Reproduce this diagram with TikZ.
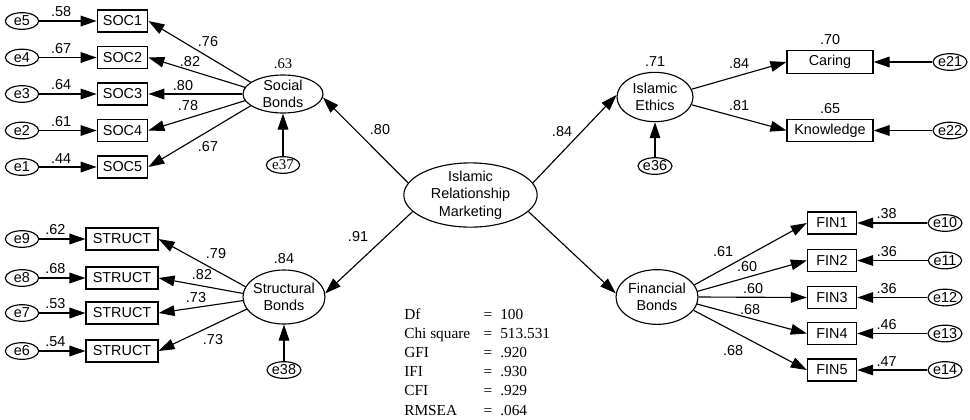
\documentclass[tikz,border=0pt]{standalone}
\usepackage{fontspec}
\setmainfont{Liberation Sans}
\newfontfamily\statfont{Liberation Serif}
\usetikzlibrary{%
    arrows.meta,
    positioning,
    shapes.geometric
}
\tikzset{headarrow/.style = {-{Triangle[length=12pt,width=8pt]}, line width=.85pt}}
\tikzset{
    latent/.style = {draw, ellipse, line width=.85pt, inner xsep=-2pt, inner ysep=-1pt,
        align=center, font=\fontsize{10.8}{13}\selectfont},
    errnode/.style = {draw, ellipse, line width=.85pt, inner sep=0pt, minimum width=25pt,
        minimum height=12.5pt, font=\fontsize{10.8}{12}\selectfont},
    obsbox/.style = {draw, rectangle, line width=.85pt, minimum height=16.5pt,
        font=\fontsize{10.8}{13}\selectfont},
    weight/.style = {inner sep=1pt, font=\fontsize{10.8}{13}\selectfont},
    statline/.style = {inner sep=0pt, text height=8pt, text depth=2pt,
        font=\statfont\fontsize{11.5}{13}\selectfont}
}

\begin{document}
\begin{tikzpicture}[x=0.75pt, y=-0.75pt]
    \useasboundingbox (0,0) rectangle (970,419);

    % latent variables
    \node[latent, minimum width=100pt, minimum height=48pt] (IRM) at (470.5,195) {Islamic\\Relationship\\Marketing};
    \node[latent, minimum width=60pt, minimum height=28.5pt] (SB) at (283,94) {Social\\Bonds};
    \node[latent, minimum width=61.5pt, minimum height=40.5pt] (StB) at (284,297) {Structural\\Bonds};
    \node[latent, minimum width=57pt, minimum height=37pt] (IE) at (655,97) {Islamic\\Ethics};
    \node[latent, minimum width=61.5pt, minimum height=41pt] (FB) at (657,297) {Financial\\Bonds};

    \node[weight, font=\statfont\fontsize{11}{13}\selectfont] (r2SB) [above=3pt of SB] {.63};
    \node[weight] (r2StB) [above=3pt of StB] {.84};
    \node[weight] (r2IE) [above=3pt of IE] {.71};

    % disturbances
    \node[errnode, font=\statfont\fontsize{11.2}{12}\selectfont] (e37) at (283,165) {e37};
    \node[errnode] (e38) at (284,370) {e38};
    \node[errnode] (e36) at (655,166) {e36};
    \draw[headarrow] (e37) -- (SB);
    \draw[headarrow] (e38) -- (StB);
    \draw[headarrow] (e36) -- (IE);

    % second order paths
    \draw[headarrow] (IRM.169) -- (SB.355);
    \draw[headarrow] (IRM.11) -- (IE.177);
    \draw[headarrow] (IRM.196) -- (StB.5);
    \draw[headarrow] (IRM.344) -- (FB.175);
    \node[weight] (wSB) at (380,130) {.80};
    \node[weight] (wIE) at (562,132) {.84};
    \node[weight] (wStB) at (358,237) {.91};

    % social bonds
    \foreach \i/\e/\y/\r/\a/\w/\lx/\ly in {%
        1/5/21/.58/160/.76/208/42,
        2/4/57.5/.67/170/.82/190/62,
        3/3/94/.64/180/.80/183/86,
        4/2/130.5/.61/190/.78/188/106,
        5/1/167/.44/200/.67/208/147%
        }
        {
        \node[obsbox, minimum width=38pt] (SOC\i) at (122.5,\y) {SOC\i};
        \node[errnode] (e\e) at (22,\y) {e\e};
        \draw[headarrow] (e\e) to node [weight, above=1.5pt, pos=.38] {\r} (SOC\i);
        \draw[headarrow] (SB.\a) -- (SOC\i.east);
        \node[weight] (wSOC\i) at (\lx,\ly) {\w};
        }

    % structural bonds
    \foreach \i/\e/\y/\r/\a/\w/\lx/\ly in {%
        1/9/239/.62/165/.79/216/254,
        2/8/278/.68/175/.82/202/275,
        3/7/313/.53/185/.73/196/298,
        4/6/351/.54/198/.73/213/340%
        }
        {
        \node[obsbox, minimum width=54pt] (STR\i) at (122,\y) {STRUCT};
        \node[errnode] (e\e) at (22,\y) {e\e};
        \draw[headarrow] (e\e) to node [weight, above=1.5pt, pos=.35] {\r} (STR\i);
        \draw[headarrow] (StB.\a) -- (STR\i.east);
        \node[weight] (wSTR\i) at (\lx,\ly) {\w};
        }

    % islamic ethics
    \foreach \n/\Label/\e/\y/\r/\a/\w in {%
        Car/Caring/21/62/.70/12/.84,
        Kno/Knowledge/22/130.5/.65/348/.81%
        }
        {
        \node[obsbox, minimum width=64.5pt] (\n) at (830,\y) {\Label};
        \node[errnode] (e\e) at (950,\y) {e\e};
        \node[weight] (r2\n) [above=3pt of \n] {\r};
        \draw[headarrow] (e\e) -- (\n);
        \draw[headarrow] (IE.\a) to node [weight, pos=.5, above=4pt] {\w} (\n.west);
        }

    % financial bonds
    \foreach \i/\e/\y/\r/\a/\w/\lx/\ly in {%
        1/10/223/.38/18/.61/723/252,
        2/11/260.5/.36/8/.60/747/267,
        3/12/297.5/.36/0/.60/753/289,
        4/13/333.5/.46/350/.68/750/310,
        5/14/370/.47/340/.68/733/351%
        }
        {
        \node[obsbox, minimum width=37pt] (FIN\i) at (832,\y) {FIN\i};
        \node[errnode] (e\e) at (945,\y) {e\e};
        \draw[headarrow] (e\e) to node [weight, above=1.5pt, pos=.58] {\r} (FIN\i);
        \draw[headarrow] (FB.\a) -- (FIN\i.west);
        \node[weight] (wFIN\i) at (\lx,\ly) {\w};
        }

    % fit indices
    \foreach \k/\v/\y [count=\r] in {%
        Df/100/315,
        Chi square/513.531/334.2,
        GFI/.920/353.4,
        IFI/.930/372.6,
        CFI/.929/391.8,
        RMSEA/.064/411%
        }
        {
        \node[statline, anchor=west] (fit\r) at (404,\y) {\k};
        \node[statline] (eq\r) at (488,\y) {=};
        \node[statline, anchor=west] (val\r) at (500,\y) {\v};
        }
\end{tikzpicture}
\end{document}
